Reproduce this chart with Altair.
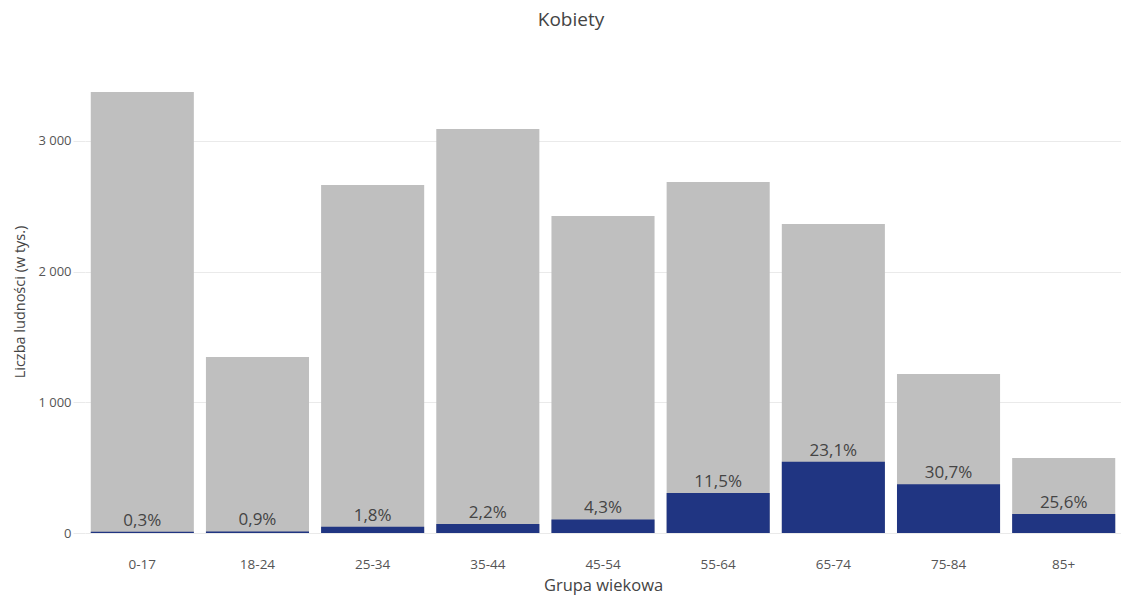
import altair as alt
import pandas as pd

groups = ["0-17", "18-24", "25-34", "35-44", "45-54", "55-64", "65-74", "75-84", "85+"]
total = [3374, 1347, 2663, 3091, 2425, 2686, 2364, 1217, 574]
part = [10, 12, 48, 68, 104, 307, 545, 374, 146]
labels = ["0,3%", "0,9%", "1,8%", "2,2%", "4,3%", "11,5%", "23,1%", "30,7%", "25,6%"]

df = pd.DataFrame({"grupa": groups, "total": total, "part": part, "label": labels})

FONT = "Open Sans"
W, H = 1036, 463

x = alt.X("grupa:N", sort=groups,
          scale=alt.Scale(paddingInner=0.105, paddingOuter=0.05),
          axis=alt.Axis(title="Grupa wiekowa", labelAngle=0, ticks=False, domain=False,
                        labelPadding=24, labelFontSize=13.5, labelColor="#555",
                        titleFontSize=16.5, titleColor="#444", titleFontWeight="normal",
                        titlePadding=7, labelFont=FONT, titleFont=FONT))
yscale = alt.Scale(domain=[0, 3543], nice=False)

gray = alt.Chart(df).mark_bar(color="#bfbfbf").encode(
    x=x,
    y=alt.Y("total:Q", scale=yscale,
            axis=alt.Axis(title="Liczba ludności (w tys.)", values=[0, 1000, 2000, 3000],
                          labelExpr="replace(format(datum.value, ','), ',', ' ')",
                          grid=True, gridColor="#eaeaea", domain=False,
                          tickColor="#eaeaea", tickSize=12, labelPadding=2,
                          labelFontSize=13, labelColor="#555",
                          titleFontSize=14.5, titleColor="#444", titleFontWeight="normal",
                          titlePadding=10, labelFont=FONT, titleFont=FONT)),
)

navy = alt.Chart(df).mark_bar(color="#203582").encode(
    x=alt.X("grupa:N", sort=groups),
    y=alt.Y("part:Q", scale=yscale),
)

text = alt.Chart(df).mark_text(baseline="bottom", dy=-2, fontSize=17, color="#444", font=FONT).encode(
    x=alt.X("grupa:N", sort=groups),
    y=alt.Y("part:Q", scale=yscale),
    text="label:N",
)

chart = alt.layer(gray, navy, text).properties(
    width=W, height=H,
    background="white",
    title=alt.TitleParams("Kobiety", fontSize=19, color="#444", font=FONT,
                          fontWeight="normal", anchor="middle", dx=-32, offset=40),
    autosize=alt.AutoSizeParams(type="none"),
    padding={"left": 85, "top": 70, "right": 0, "bottom": 63},
).configure_view(stroke=None, strokeWidth=0)

chart.save("out.html", embed_options={"renderer": "svg", "actions": False})
